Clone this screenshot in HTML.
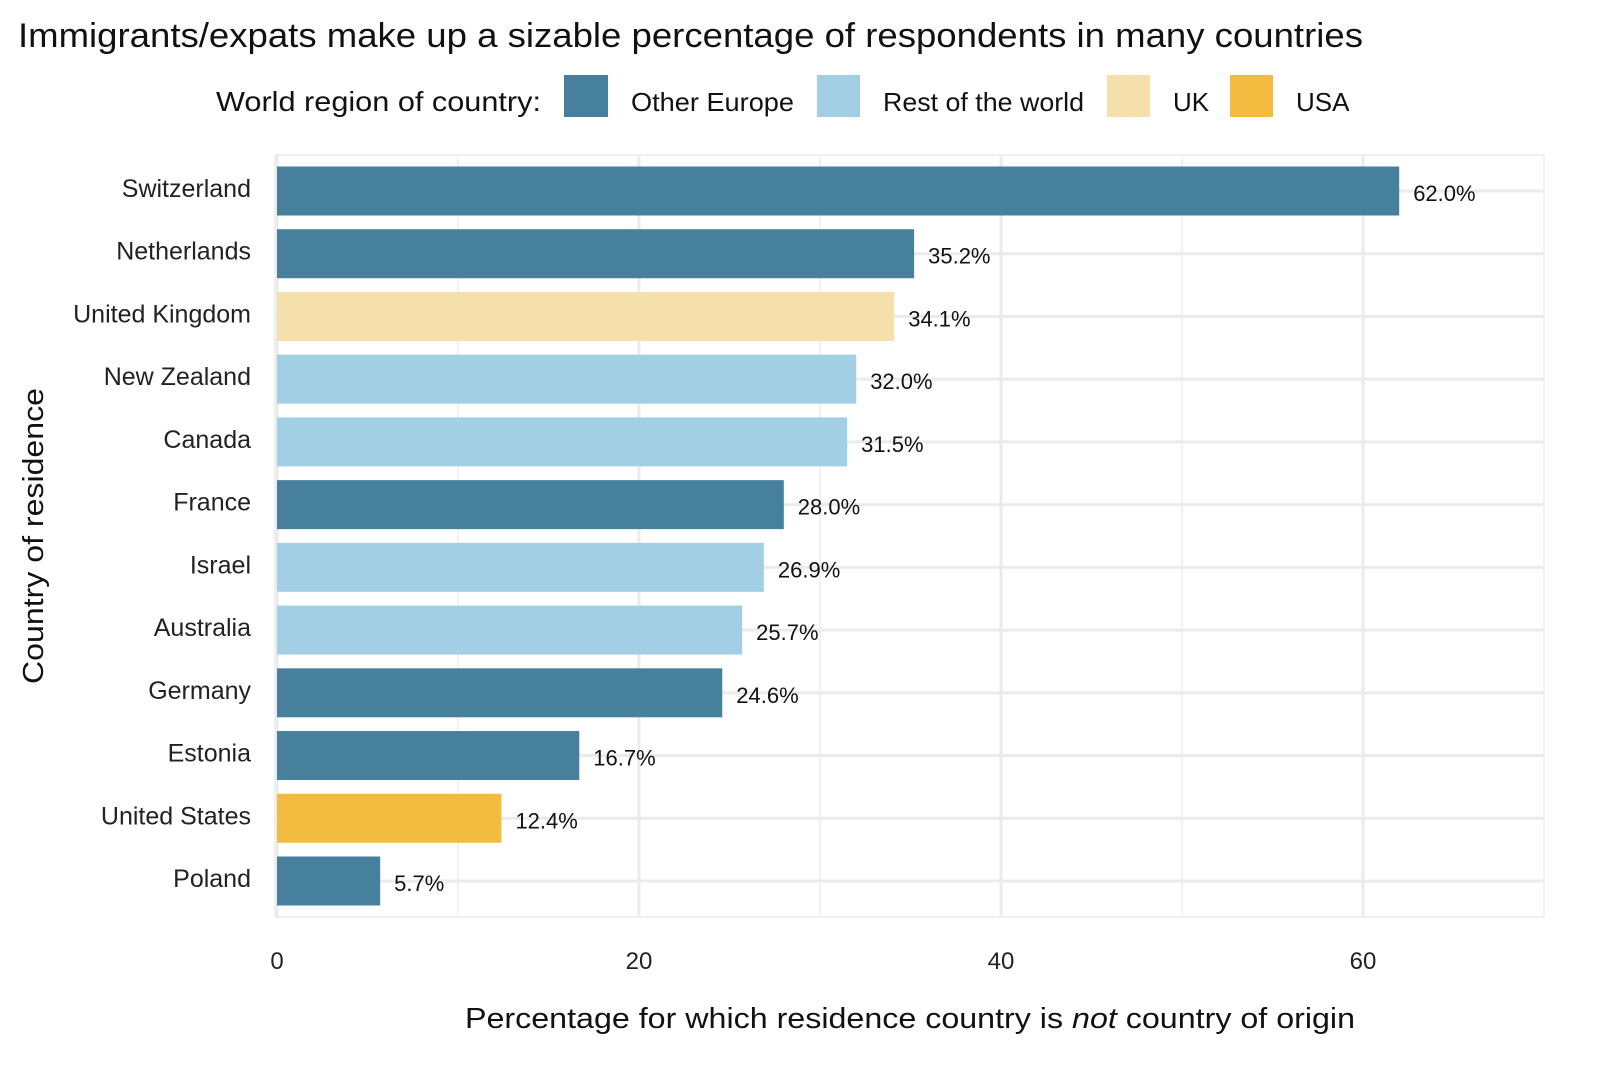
<!DOCTYPE html>
<html><head><meta charset="utf-8"><style>
html,body{margin:0;padding:0;background:#fff}
svg{display:block;font-family:"Liberation Sans",sans-serif}
</style></head><body>
<svg id="chart" width="1600" height="1066" viewBox="0 0 1600 1066" xmlns="http://www.w3.org/2000/svg">
<text x="18" y="47" font-size="34" fill="#111" textLength="1345" lengthAdjust="spacingAndGlyphs">Immigrants/expats make up a sizable percentage of respondents in many countries</text>
<g>
<text x="216" y="111" font-size="28" fill="#111" textLength="325" lengthAdjust="spacingAndGlyphs">World region of country:</text>
<rect x="564" y="75" width="44" height="42" fill="#46809c"/>
<text x="631" y="111" font-size="26" fill="#111" textLength="163" lengthAdjust="spacingAndGlyphs">Other Europe</text>
<rect x="817" y="75" width="43" height="42" fill="#a3cfe5"/>
<text x="883" y="111" font-size="26" fill="#111" textLength="201" lengthAdjust="spacingAndGlyphs">Rest of the world</text>
<rect x="1107" y="75" width="43" height="42" fill="#f5dfaa"/>
<text x="1173" y="111" font-size="26" fill="#111">UK</text>
<rect x="1230" y="75" width="43" height="42" fill="#f3bc40"/>
<text x="1296" y="111" font-size="26" fill="#111">USA</text>
</g>
<g id="plot"></g>
<text x="910" y="1028" font-size="29" fill="#111" text-anchor="middle" textLength="890" lengthAdjust="spacingAndGlyphs">Percentage for which residence country is <tspan font-style="italic">not</tspan> country of origin</text>
<text transform="translate(43,536) rotate(-90)" font-size="29" fill="#111" text-anchor="middle" textLength="296" lengthAdjust="spacingAndGlyphs">Country of residence</text>
</svg>
<script>
const categories = ["Switzerland","Netherlands","United Kingdom","New Zealand","Canada","France","Israel","Australia","Germany","Estonia","United States","Poland"];
const values = [62.0,35.2,34.1,32.0,31.5,28.0,26.9,25.7,24.6,16.7,12.4,5.7];
const regions = ["Other Europe","Other Europe","UK","Rest of the world","Rest of the world","Other Europe","Rest of the world","Rest of the world","Other Europe","Other Europe","USA","Other Europe"];
const xTicks = [0,20,40,60];
const xMinor = [10,30,50,70];
const colors = {"Other Europe":"#46809c","Rest of the world":"#a3cfe5","UK":"#f5dfaa","USA":"#f3bc40"};
const NS="http://www.w3.org/2000/svg";
const X0=277, X1=1363, PL=275, PR=1544, PT=155, PB=917;
const x=v=>X0+(X1-X0)*v/60;
const y0=191, yStep=(881-191)/11, bh=49;
const y=i=>y0+i*yStep;
const g=document.getElementById('plot');
function mk(t,a){const e=document.createElementNS(NS,t);for(const k in a)e.setAttribute(k,a[k]);g.appendChild(e);return e;}
const bg=mk('rect',{x:PL,y:PT,width:PR-PL,height:PB-PT,fill:'none',stroke:'#f0f0f0','stroke-width':2});


xMinor.forEach(v=>{const l=mk('line',{x1:x(v),x2:x(v),y1:PT,y2:PB,stroke:'#f2f2f2','stroke-width':2});

});
xTicks.forEach(v=>{const l=mk('line',{x1:x(v),x2:x(v),y1:PT,y2:PB,stroke:'#ebebeb','stroke-width':3});


const t=mk('text',{x:x(v),y:969,'font-size':24,fill:'#222','text-anchor':'middle'});t.textContent=v;

});
categories.forEach((c,i)=>{const l=mk('line',{x1:PL,x2:PR,y1:y(i),y2:y(i),stroke:'#ebebeb','stroke-width':3});

});
categories.forEach((c,i)=>{
const r=mk('rect',{x:x(0),y:y(i)-bh/2,width:x(values[i])-x(0),height:bh,fill:colors[regions[i]]});


const t=mk('text',{x:x(values[i])+14,y:y(i)+10,'font-size':22,fill:'#111'});t.textContent=values[i].toFixed(1)+'%';


const yl=mk('text',{x:251,y:y(i)+6,'font-size':25,fill:'#222','text-anchor':'end'});yl.textContent=c;


});
</script>
</body></html>
